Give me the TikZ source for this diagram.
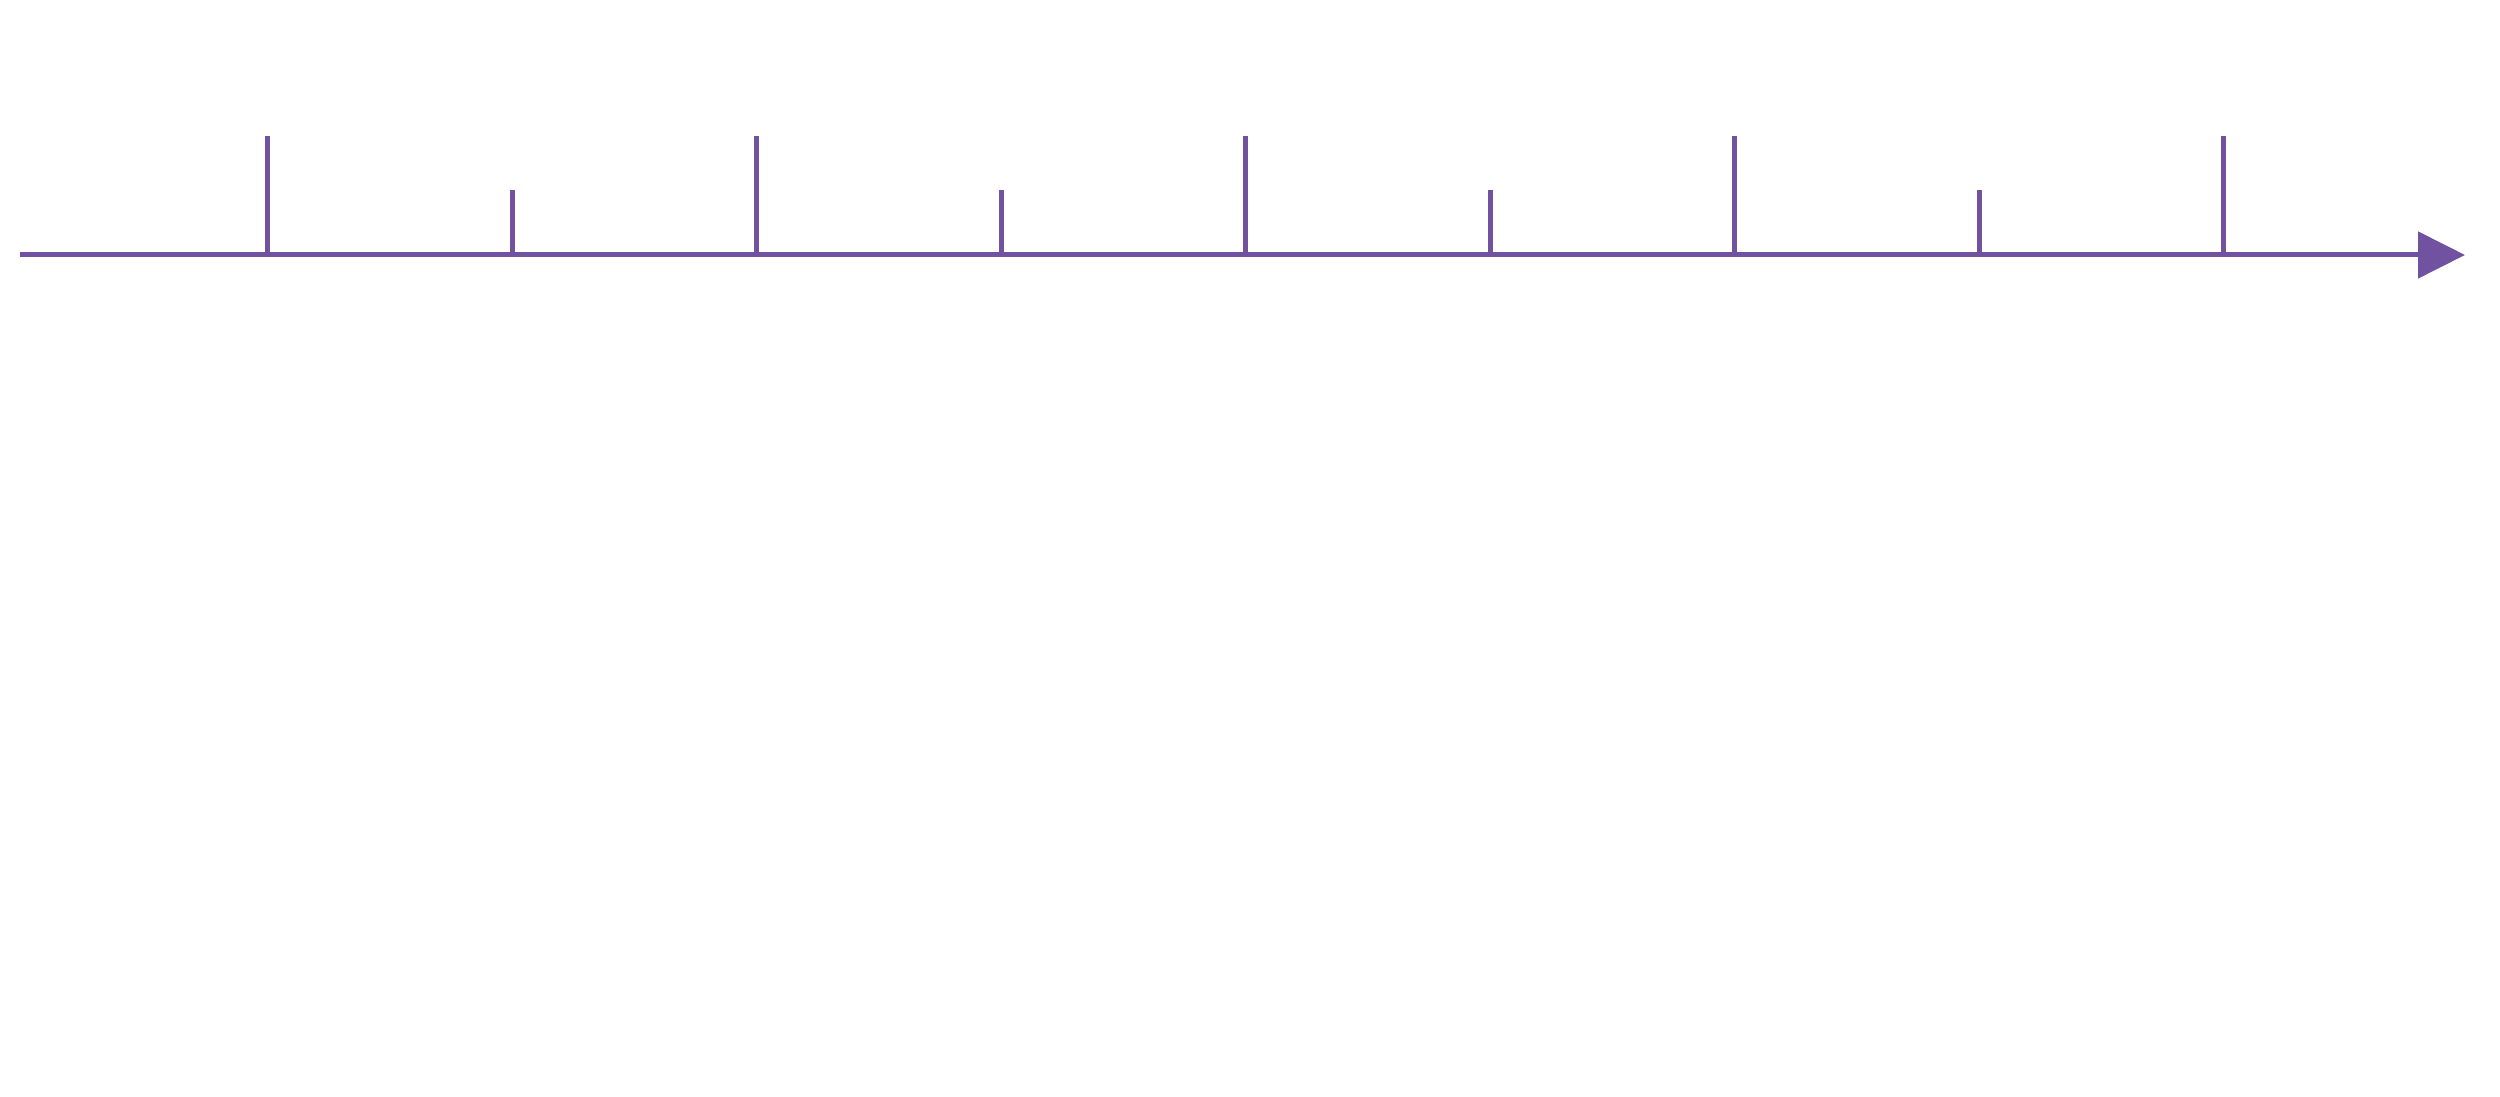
\documentclass[tikz,border=0pt]{standalone}
\usetikzlibrary{arrows.meta}
\definecolor{axpurple}{RGB}{112,82,160}
\tikzset{
  axl/.style={draw=axpurple,line width=1.42pt},
  axar/.style={axl,-{Triangle[length=4.7mm,width=4.6mm]}},
  tickl/.style={axl,line cap=butt},
}

\begin{document}
\begin{tikzpicture}
  \useasboundingbox (0,0) rectangle (25,10.97);
  % axis
  \coordinate (ax0) at (0.20,8.42);
  \coordinate (ax1) at (24.65,8.42);
  \draw[axar] (ax0) -- (ax1);
  % ticks: long and short alternating
  \foreach \k in {0,...,8}{
    \pgfmathsetmacro{\xx}{2.677+2.445*\k}
    \pgfmathtruncatemacro{\odd}{mod(\k,2)}
    \ifnum\odd=0 \def\tkh{9.61}\else \def\tkh{9.07}\fi
    \coordinate (t\k) at (\xx,8.42);
    \draw[tickl] (t\k) -- (\xx,\tkh);
  }
\end{tikzpicture}
\end{document}
